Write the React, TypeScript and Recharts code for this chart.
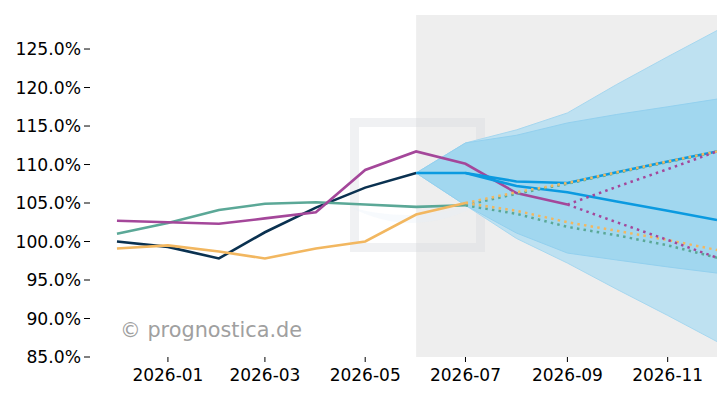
import React from "react";
import {
  Area,
  ComposedChart,
  Customized,
  Line,
  ReferenceArea,
  XAxis,
  YAxis,
} from "recharts";

const months = [
  "2025-12-01", "2026-01-01", "2026-02-01", "2026-03-01", "2026-04-01",
  "2026-05-01", "2026-06-01", "2026-07-01", "2026-08-01", "2026-09-01",
  "2026-10-01", "2026-11-01", "2026-12-01",
];

const navy = [100.0, 99.3, 97.8, 101.2, 104.4, 107.0, 108.9, null, null, null, null, null, null];
const purple = [102.7, 102.5, 102.3, 103.0, 103.8, 109.3, 111.7, 110.1, 106.3, 104.8, null, null, null];
const teal = [101.0, 102.4, 104.1, 104.9, 105.1, 104.8, 104.5, 104.7, null, null, null, null, null];
const orange = [99.1, 99.5, 98.7, 97.8, 99.1, 100.0, 103.5, 105.0, null, null, null, null, null];

const forecast = [null, null, null, null, null, null, 108.9, 108.9, 107.2, 106.4, 105.2, 104.0, 102.8];
const forecastAlt = [null, null, null, null, null, null, null, 108.9, 107.8, 107.6, 109.0, 110.4, 111.7];

const orangeUp = [null, null, null, null, null, null, null, 105.0, 106.4, 107.6, 109.0, 110.4, 111.7];
const orangeDown = [null, null, null, null, null, null, null, 105.0, 104.0, 102.5, 101.4, 100.2, 98.9];
const tealUp = [null, null, null, null, null, null, null, 104.7, 106.2, 107.5, 108.9, 110.3, 111.7];
const tealDown = [null, null, null, null, null, null, null, 104.7, 103.6, 101.9, 100.8, 99.5, 97.9];
const purpleUp = [null, null, null, null, null, null, null, null, null, 104.8, 107.1, 109.4, 111.7];
const purpleDown = [null, null, null, null, null, null, null, null, null, 104.8, 102.5, 100.2, 97.9];

const outerLow = [null, null, null, null, null, null, 108.9, 104.7, 100.4, 97.2, 93.8, 90.4, 87.0];
const outerHigh = [null, null, null, null, null, null, 108.9, 112.8, 114.5, 116.7, 120.4, 124.0, 127.4];
const innerLow = [null, null, null, null, null, null, 108.9, 104.7, 101.1, 98.5, 97.6, 96.7, 95.9];
const innerHigh = [null, null, null, null, null, null, 108.9, 112.8, 113.8, 115.4, 116.5, 117.5, 118.5];

const xTickLabels = ["2026-01", "2026-03", "2026-05", "2026-07", "2026-09", "2026-11"];
const yTicks = [85, 90, 95, 100, 105, 110, 115, 120, 125];

const dayOffset = (d: string) => (Date.parse(d) - Date.parse(months[0])) / 86400000;
const xTicks = xTickLabels.map((l) => dayOffset(l + "-01"));

const data = months.map((m, i) => ({
  t: dayOffset(m),
  navy: navy[i],
  purple: purple[i],
  teal: teal[i],
  orange: orange[i],
  forecast: forecast[i],
  forecastAlt: forecastAlt[i],
  orangeUp: orangeUp[i],
  orangeDown: orangeDown[i],
  tealUp: tealUp[i],
  tealDown: tealDown[i],
  purpleUp: purpleUp[i],
  purpleDown: purpleDown[i],
  outer: outerLow[i] != null ? [outerLow[i], outerHigh[i]] : null,
  inner: innerLow[i] != null ? [innerLow[i], innerHigh[i]] : null,
}));

const font = "DejaVu Sans";
const dotted = "2.5 4.2";

// faint logo behind the series; drawn together with the grey forecast span
function Watermark() {
  return (
    <g pointerEvents="none">
      <rect x={354.5} y={122.5} width={126} height={125} fill="none"
        stroke="rgb(212,214,222)" strokeOpacity={0.35} strokeWidth={9} />
      <path d="M350 207 Q417 242 487 200 Q417 226 350 207 Z"
        fill="#e6f0f7" fillOpacity={0.3} />
    </g>
  );
}

function ForecastSpan(props: any) {
  const { x, y, width, height } = props;
  return (
    <g>
      <rect x={x} y={y} width={width} height={height} fill="#eeeeee" />
      <Watermark />
    </g>
  );
}

function Credit() {
  return (
    <text x={120} y={337} fontSize={20.8} fontFamily={font} fill="#a0a0a0">
      © prognostica.de
    </text>
  );
}

export default function App() {
  return (
    <div style={{ position: "absolute", left: 0, top: 0, width: 718, height: 400, background: "#fff" }}>
      <ComposedChart width={718} height={400} data={data}
        margin={{ top: 15, right: 1, bottom: 0, left: 0 }}>
        <XAxis dataKey="t" type="number" domain={[-16.4, 365]} ticks={xTicks}
          tickFormatter={(v) => xTickLabels[xTicks.indexOf(v)] ?? ""}
          allowDataOverflow axisLine={false} tickSize={5} tickMargin={7} height={43}
          tick={{ fill: "#000", fontSize: 17, fontFamily: font }}
          tickLine={{ stroke: "#000" }} />
        <YAxis type="number" domain={[85, 129.42]} ticks={yTicks} allowDataOverflow
          tickFormatter={(v) => v.toFixed(1) + "%"} axisLine={false} width={90}
          tickSize={6} tickMargin={3}
          tick={{ fill: "#000", fontSize: 17.2, fontFamily: font }}
          tickLine={{ stroke: "#000" }} />
        <ReferenceArea x1={dayOffset("2026-06-01")} x2={365} y1={85} y2={129.42}
          shape={ForecastSpan} />
        <Area dataKey="outer" type="linear" fill="#bee1f1" fillOpacity={1}
          stroke="#a6d7ef" strokeWidth={1} isAnimationActive={false} dot={false} activeDot={false} />
        <Area dataKey="inner" type="linear" fill="#a1d7ef" fillOpacity={1}
          stroke="#93d0ee" strokeWidth={1} isAnimationActive={false} dot={false} activeDot={false} />
        <Customized component={Credit} />
        <Line dataKey="navy" stroke="#0a3150" strokeWidth={2.6} dot={false} activeDot={false} isAnimationActive={false} />
        <Line dataKey="teal" stroke="#5ba897" strokeWidth={2.6} dot={false} activeDot={false} isAnimationActive={false} />
        <Line dataKey="orange" stroke="#f2b760" strokeWidth={2.6} dot={false} activeDot={false} isAnimationActive={false} />
        <Line dataKey="purple" stroke="#a4479a" strokeWidth={2.6} dot={false} activeDot={false} isAnimationActive={false} />
        <Line dataKey="forecastAlt" stroke="#0b9ae0" strokeWidth={2.6} dot={false} activeDot={false} isAnimationActive={false} />
        <Line dataKey="forecast" stroke="#0b9ae0" strokeWidth={2.6} dot={false} activeDot={false} isAnimationActive={false} />
        <Line dataKey="tealUp" stroke="#5ba897" strokeWidth={2.5} strokeDasharray={dotted} dot={false} activeDot={false} isAnimationActive={false} />
        <Line dataKey="orangeUp" stroke="#f2b760" strokeWidth={2.5} strokeDasharray={dotted} dot={false} activeDot={false} isAnimationActive={false} />
        <Line dataKey="tealDown" stroke="#5ba897" strokeWidth={2.5} strokeDasharray={dotted} dot={false} activeDot={false} isAnimationActive={false} />
        <Line dataKey="orangeDown" stroke="#f2b760" strokeWidth={2.5} strokeDasharray={dotted} dot={false} activeDot={false} isAnimationActive={false} />
        <Line dataKey="purpleUp" stroke="#a4479a" strokeWidth={2.5} strokeDasharray={dotted} dot={false} activeDot={false} isAnimationActive={false} />
        <Line dataKey="purpleDown" stroke="#a4479a" strokeWidth={2.5} strokeDasharray={dotted} dot={false} activeDot={false} isAnimationActive={false} />
      </ComposedChart>
    </div>
  );
}
